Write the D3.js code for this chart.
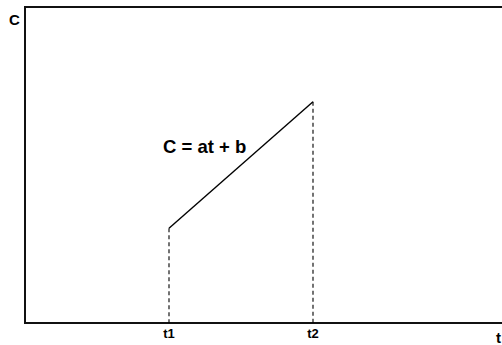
<!DOCTYPE html>
<html>
<head>
<meta charset="utf-8">
<script src="https://cdn.jsdelivr.net/npm/d3@7"></script>
<style>
  body { margin: 0; background: #fff; }
  text { font-family: "Liberation Sans", Arial, sans-serif; font-weight: bold; fill: #000; }
</style>
</head>
<body>
<div id="chart"></div>
<script>
// segment C = at + b between t1 and t2
var tValues = [3, 6];
var cValues = [3, 7];
var tickLabels = ["t1", "t2"];

function init() {
    var w = 502;
    var h = 345;
    var margin = { top: 7, left: 25, bottom: 22 };

    var svg = d3.select("#chart").append("svg")
                .attr("width", w)
                .attr("height", h);

    var xScale = d3.scaleLinear()
                   .domain([0, 10])
                   .range([margin.left, margin.left + 480]);

    var yScale = d3.scaleLinear()
                   .domain([0, 10])
                   .range([h - margin.bottom, margin.top]);

    var y0 = yScale(0);
    var yTop = yScale(10);

    // frame: left axis, top and bottom lines
    svg.append("path")
       .attr("d", "M" + w + "," + yTop + "H" + xScale(0) + "V" + y0 + "H" + w)
       .attr("fill", "none")
       .attr("stroke", "#111")
       .attr("stroke-width", 2);

    var points = tValues.map((t, i) => ({ t: t, c: cValues[i], label: tickLabels[i] }));

    // dashed drop lines
    svg.selectAll(".drop")
       .data(points)
       .enter().append("line")
       .attr("class", "drop")
       .attr("x1", d => xScale(d.t))
       .attr("x2", d => xScale(d.t))
       .attr("y1", d => yScale(d.c))
       .attr("y2", y0)
       .attr("stroke", "#000")
       .attr("stroke-width", 1.1)
       .attr("stroke-dasharray", "4,3");

    var line = d3.line()
                 .x(d => xScale(d.t))
                 .y(d => yScale(d.c));

    svg.append("path")
       .datum(points)
       .attr("d", line)
       .attr("fill", "none")
       .attr("stroke", "#000")
       .attr("stroke-width", 1.4);

    // tick labels t1, t2
    svg.selectAll(".tlabel")
       .data(points)
       .enter().append("text")
       .attr("class", "tlabel")
       .attr("x", d => xScale(d.t))
       .attr("y", 338)
       .attr("text-anchor", "middle")
       .style("font-size", "13px")
       .text(d => d.label);

    // axis titles
    svg.append("text")
       .attr("x", 9)
       .attr("y", 25)
       .style("font-size", "15px")
       .text("C");

    svg.append("text")
       .attr("x", 496)
       .attr("y", 343)
       .style("font-size", "15px")
       .text("t");

    svg.append("text")
       .attr("x", 163)
       .attr("y", 153)
       .style("font-size", "18.5px")
       .text("C = at + b");
}

window.onload = init;
</script>
</body>
</html>
